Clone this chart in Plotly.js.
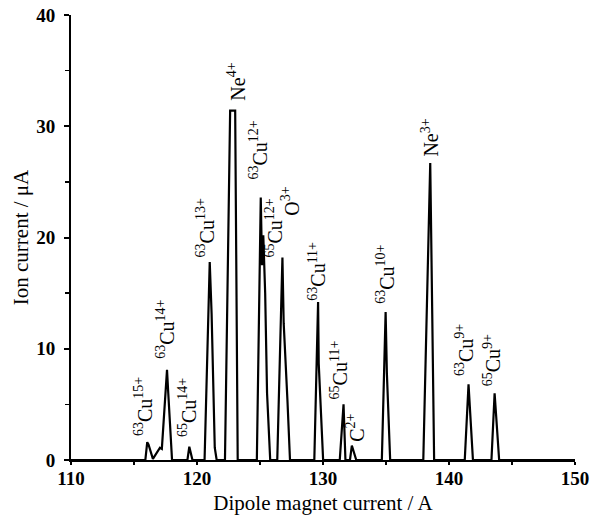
<!DOCTYPE html>
<html>
<head>
<meta charset="utf-8">
<script src="https://cdn.plot.ly/plotly-3.0.1.min.js"></script>
<style>html,body{margin:0;padding:0;background:#fff;}#chart{width:594px;height:526px;}</style>
</head>
<body>
<div id="chart"></div>
<script>
// Spectrum trace vertices (dipole current in A, ion current in µA)
const magnetCurrent = [
  110, 115.90, 116.05, 116.15, 116.50, 116.91, 117.06, 117.21, 117.62, 117.72, 118.02,
  119.24, 119.39, 119.64,
  120.60, 121.01, 121.16, 121.41, 121.56,
  122.22, 122.63, 123.03, 123.23,
  124.75, 125.06, 125.16, 125.26, 125.41, 125.56, 125.81,
  126.37, 126.78, 126.88, 127.18, 127.38,
  129.31, 129.61, 129.66, 130.01,
  131.33, 131.63, 131.78,
  132.14, 132.29, 132.64,
  134.67, 134.97, 135.07, 135.33,
  137.96, 138.51, 138.67, 138.82,
  141.25, 141.55, 141.90,
  143.37, 143.62, 143.98,
  150
];
const ionCurrent = [
  0, 0, 1.6, 1.4, 0.1, 0.9, 1.1, 1.0, 8.1, 6.0, 0,
  0, 1.2, 0,
  0, 17.8, 13.1, 1.1, 0,
  0, 31.4, 31.4, 0,
  0, 23.6, 17.5, 20.2, 15.0, 6.0, 0,
  0, 18.2, 12.3, 5.3, 0,
  0, 14.2, 8.7, 0,
  0, 5.0, 0,
  0, 1.3, 0,
  0, 13.3, 7.8, 0,
  0, 26.7, 13.1, 0,
  0, 6.8, 0,
  0, 6.0, 0,
  0
];

// Peak labels
const peakLabels = [
  "<sup>63</sup>Cu<sup>15+</sup>",
  "<sup>63</sup>Cu<sup>14+</sup>",
  "<sup>65</sup>Cu<sup>14+</sup>",
  "<sup>63</sup>Cu<sup>13+</sup>",
  "Ne<sup>4+</sup>",
  "<sup>63</sup>Cu<sup>12+</sup>",
  "<sup>65</sup>Cu<sup>12+</sup>",
  "O<sup>3+</sup>",
  "<sup>63</sup>Cu<sup>11+</sup>",
  "<sup>65</sup>Cu<sup>11+</sup>",
  "C<sup>2+</sup>",
  "<sup>63</sup>Cu<sup>10+</sup>",
  "Ne<sup>3+</sup>",
  "<sup>63</sup>Cu<sup>9+</sup>",
  "<sup>65</sup>Cu<sup>9+</sup>"
];

// Label placement (layout only)
const labelX = [115.72, 117.46, 119.21, 120.71, 123.09, 124.84, 126.11, 127.38, 129.51, 131.23, 132.54, 134.97, 138.51, 141.20, 143.37];
const labelY = [4.77, 11.7, 4.68, 20.9, 34.0, 27.9, 20.9, 23.3, 17.0, 8.1, 2.9, 16.7, 29.0, 9.9, 9.0];

const serif = "Liberation Serif, Times New Roman, serif";

const annotations = peakLabels.map((t, i) => ({
  x: labelX[i], y: labelY[i], xref: "x", yref: "y",
  text: t, showarrow: false, textangle: -90,
  xanchor: "center", yanchor: "middle",
  font: {family: serif, size: 20, color: "#000"}
}));

const trace = {
  x: magnetCurrent, y: ionCurrent, type: "scatter", mode: "lines",
  line: {color: "#000", width: 2.2}, hoverinfo: "skip"
};

const layout = {
  width: 594, height: 526,
  margin: {l: 71, r: 19, t: 15, b: 66},
  paper_bgcolor: "#fff", plot_bgcolor: "#fff",
  showlegend: false,
  font: {family: serif, color: "#000"},
  xaxis: {
    range: [110, 150], tickvals: [110, 120, 130, 140, 150],
    showgrid: false, zeroline: false, showline: true, linecolor: "#000", linewidth: 2,
    ticks: "outside", ticklen: 3, tickwidth: 2, tickcolor: "#000",
    minor: {tickvals: [115, 125, 135, 145], ticks: "outside", ticklen: 3, tickwidth: 1.5, tickcolor: "#000"},
    ticklabeloverflow: "allow",
    ticklabelstandoff: -3,
    tickfont: {family: serif, size: 19, color: "#000", weight: "bold"},
    title: {text: "Dipole magnet current / A", font: {family: serif, size: 21, color: "#000"}, standoff: 8}
  },
  yaxis: {
    range: [0, 40], tickvals: [0, 10, 20, 30, 40],
    showgrid: false, zeroline: false, showline: true, linecolor: "#000", linewidth: 2,
    ticks: "outside", ticklen: 5, tickwidth: 2, tickcolor: "#000",
    minor: {tickvals: [5, 15, 25, 35], ticks: "outside", ticklen: 4, tickwidth: 1.5, tickcolor: "#000"},
    ticklabelstandoff: 5,
    tickfont: {family: serif, size: 19, color: "#000", weight: "bold"},
    title: {text: "Ion current / μA", font: {family: serif, size: 21, color: "#000"}, standoff: 2}
  },
  annotations: annotations
};

Plotly.newPlot("chart", [trace], layout, {displayModeBar: false, staticPlot: true});
</script>
</body>
</html>
